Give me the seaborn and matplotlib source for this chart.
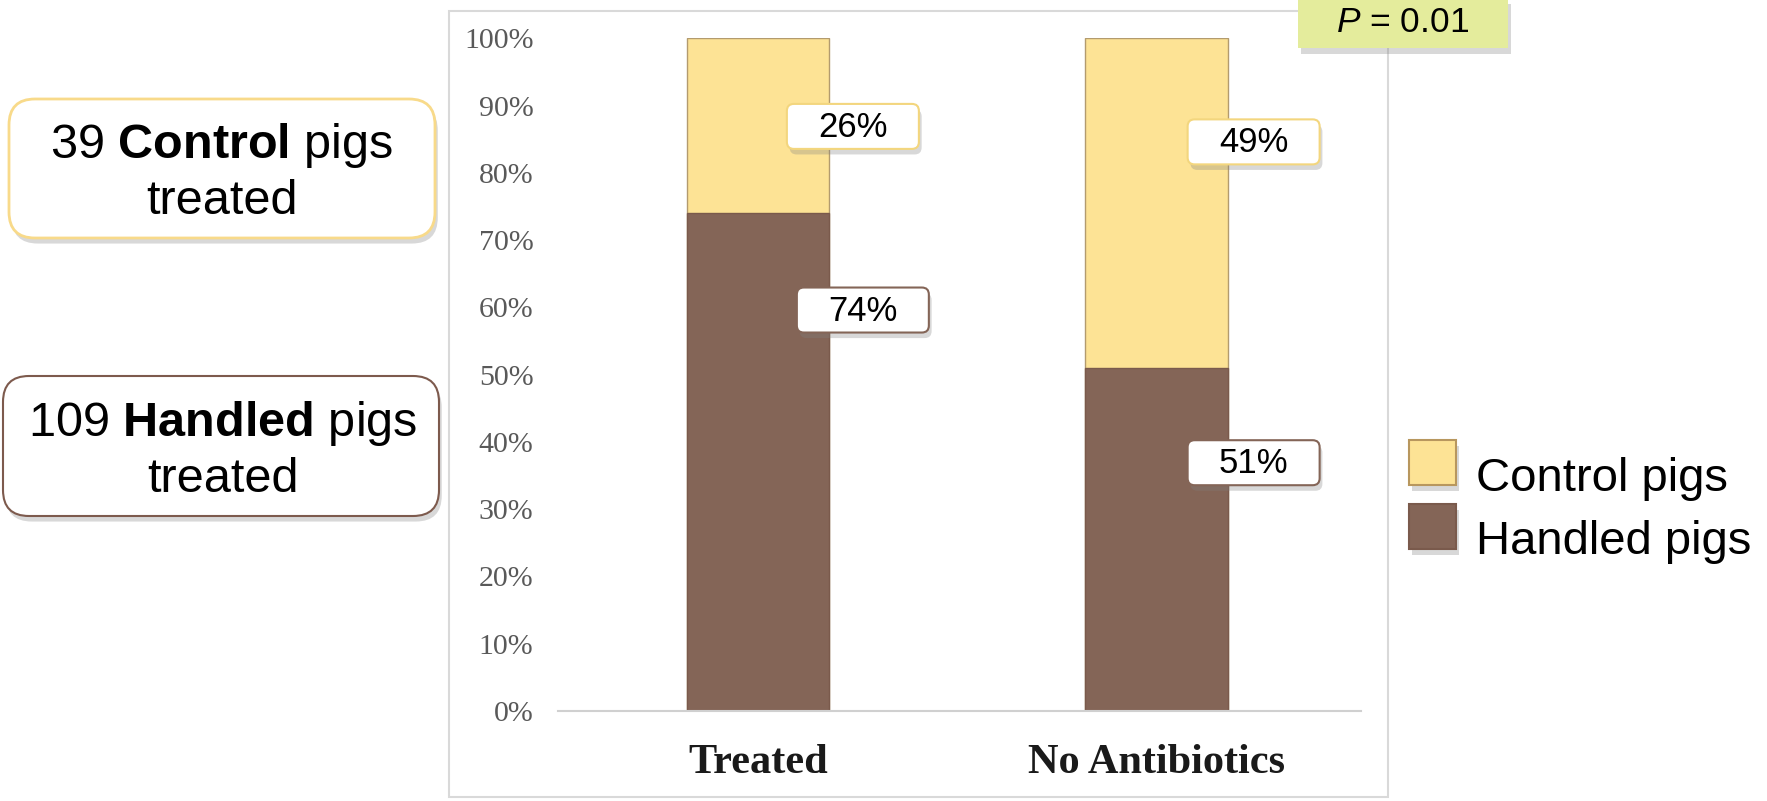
import matplotlib
matplotlib.use("Agg")
import matplotlib.pyplot as plt
import matplotlib.transforms as mtransforms
import matplotlib.patheffects as pe
from matplotlib.patches import FancyBboxPatch, Rectangle
import numpy as np
import pandas as pd
import seaborn as sns

# ---- data ----
categories = ["Treated", "No Antibiotics"]
control_pct = [26, 49]
handled_pct = [74, 51]
series_names = ["Control pigs", "Handled pigs"]
y_ticks = list(range(0, 101, 10))
p_value_text = "$\\mathit{P}$ = 0.01"
group_notes = ["39 $\\mathbf{Control}$ pigs\ntreated", "109 $\\mathbf{Handled}$ pigs\ntreated"]

# ---- style ----
YELLOW = "#FDE395"
BROWN = "#846557"
sns.set_theme(style="white")
plt.rcParams["font.family"] = ["Liberation Sans", "DejaVu Sans"]
plt.rcParams["text.color"] = "black"
plt.rcParams["mathtext.fontset"] = "custom"
plt.rcParams["mathtext.rm"] = "Liberation Sans"
plt.rcParams["mathtext.bf"] = "Liberation Sans:bold"
plt.rcParams["mathtext.it"] = "Liberation Sans:italic"

W, H = 1767, 801
fig = plt.figure(figsize=(W / 100, H / 100), dpi=100)
fig.patch.set_facecolor("white")

# pixel coordinates measured from the top-left corner
px = mtransforms.Affine2D().scale(1 / W, -1 / H).translate(0, 1) + fig.transFigure

ax = fig.add_axes([557.8 / W, 1 - 710.9 / H, (1361.3 - 557.8) / W, (710.9 - 38.3) / H])

df = pd.DataFrame({
    "category": categories,
    "control": control_pct,
    "handled": handled_pct,
})
df["total"] = df["control"] + df["handled"]

sns.barplot(data=df, x="category", y="total", color=YELLOW, width=0.358,
            edgecolor="#B39B6E", linewidth=1.0, saturation=1, ax=ax)
sns.barplot(data=df, x="category", y="handled", color=BROWN, width=0.358,
            edgecolor="#7A5A4C", linewidth=1.0, saturation=1, ax=ax)

ax.set_xlim(-0.502, 1.513)
ax.set_ylim(0, 100)
ax.set_yticks(y_ticks)
ax.set_yticklabels([f"{v}%" for v in y_ticks], fontfamily="Liberation Serif",
                   fontsize=21.5, color="#595959")
ax.set_xticks(range(len(categories)))
ax.set_xticklabels(categories, fontfamily="Liberation Serif", fontweight="bold",
                   fontsize=30.5, color="#1a1a1a")
ax.tick_params(axis="y", length=0, pad=17.5)
ax.tick_params(axis="x", length=0, pad=24)
ax.set_xlabel("")
ax.set_ylabel("")
for side in ["top", "right", "left"]:
    ax.spines[side].set_visible(False)
ax.spines["bottom"].set_color("#d0d0d0")
ax.spines["bottom"].set_linewidth(1.5)
ax.patch.set_alpha(0)

# outer frame of the chart area
fig.add_artist(Rectangle((448.5, 10.5), 1388 - 448.5, 797 - 10.5, transform=px,
                         fill=False, edgecolor="#d9d9d9", linewidth=1.5))

shadow = [pe.withSimplePatchShadow(offset=(2, -4), shadow_rgbFace="#808080", alpha=0.3)]


def rounded_box(x0, y0, w, h, edge, face="white", r=8, lw=1.5):
    box = FancyBboxPatch((x0, y0), w, h, boxstyle=f"round,pad=0,rounding_size={r}",
                         transform=px, facecolor=face, edgecolor=edge, linewidth=lw,
                         path_effects=shadow, zorder=5)
    fig.add_artist(box)


# value labels beside each segment
label_offsets = [[0.238, 0.263], [0.243, 0.243]]      # x shift from bar centre (category units)
label_heights = [[86.9, 59.6], [84.6, 36.9]]          # vertical anchor (axis units)
edge_cols = ["#F3D67E", BROWN]
fig.canvas.draw()
for i, cat in enumerate(categories):
    values = [control_pct[i], handled_pct[i]]
    for j in range(2):
        xd = i + label_offsets[i][j]
        yd = label_heights[i][j]
        dx, dy = ax.transData.transform((xd, yd))
        cx, cy = dx, H - dy
        rounded_box(cx - 66, cy - 22.5, 132, 45, edge_cols[j], r=7, lw=1.5)
        fig.text(cx, cy + 1, f"{values[j]}%", transform=px, ha="center", va="center",
                 fontsize=25, color="black", zorder=6)

# group notes on the left
rounded_box(9, 99, 426, 139, "#F8DA8A", r=26, lw=2)
rounded_box(3, 376, 436, 140, "#7D5A4D", r=26, lw=1.5)
fig.text(222, 172.5, group_notes[0], transform=px, ha="center", va="center",
         fontsize=35, linespacing=1.24, zorder=6)
fig.text(223, 450.5, group_notes[1], transform=px, ha="center", va="center",
         fontsize=35, linespacing=1.24, zorder=6)

# p-value badge
fig.add_artist(Rectangle((1298, -2), 210, 50, transform=px, facecolor="#E4EC9C",
                         edgecolor="none", path_effects=shadow, zorder=5))
fig.text(1403, 23, p_value_text, transform=px, ha="center", va="center",
         fontsize=25.5, zorder=6)

# legend
leg_colors = [YELLOW, BROWN]
leg_edges = ["#B8975E", "#7A5A4C"]
leg_top = [440, 504]
text_y = [479, 542]
for k in range(2):
    fig.add_artist(Rectangle((1409, leg_top[k]), 47, 45, transform=px,
                             facecolor=leg_colors[k], edgecolor=leg_edges[k],
                             linewidth=1.5, path_effects=shadow, zorder=5))
    fig.text(1476, text_y[k], series_names[k], transform=px, ha="left", va="center",
             fontsize=34, zorder=6)

fig.savefig("out.png", dpi=100, facecolor="white")
